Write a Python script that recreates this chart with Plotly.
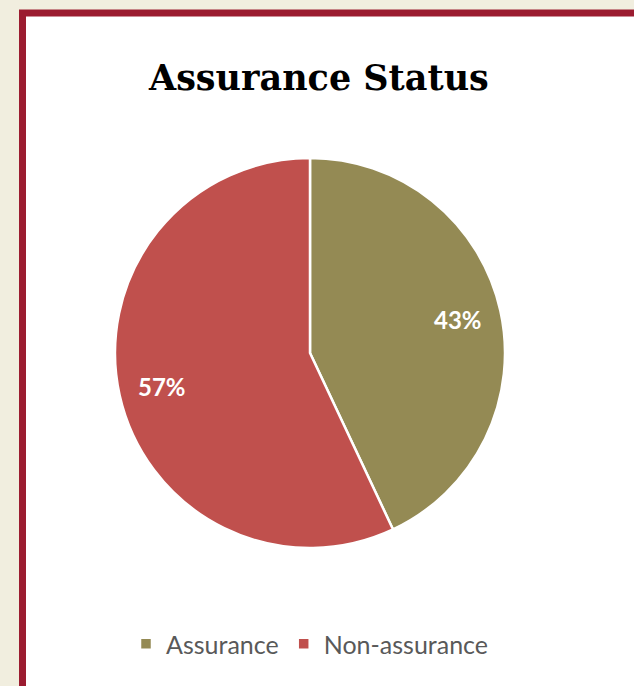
import math
import plotly.graph_objects as go

labels = ["Assurance", "Non-assurance"]
values = [43, 57]
colors = ["#948a54", "#c0504d"]
title_text = "Assurance Status"

W, H = 634, 686
cx, cy, R = 310, 353, 195  # pixel geometry of pie
label_r = 0.78  # label radius as fraction of pie radius

fig = go.Figure(go.Pie(
    labels=labels,
    values=values,
    sort=False,
    direction="clockwise",
    rotation=0,
    marker=dict(colors=colors, line=dict(color="white", width=2.5)),
    textinfo="none",
    hoverinfo="label+percent",
    domain=dict(x=[(cx - R) / W, (cx + R) / W], y=[(H - cy - R) / H, (H - cy + R) / H]),
))

# percentage labels placed along each slice's bisector
total = sum(values)
annotations = []
cum = 0
for v in values:
    mid = (cum + v / 2) / total * 2 * math.pi
    cum += v
    px = cx + label_r * R * math.sin(mid)
    py = cy - label_r * R * math.cos(mid)
    annotations.append(dict(
        text="<b>%d%%</b>" % round(v / total * 100),
        xref="paper", yref="paper", x=px / W, y=1 - py / H,
        xanchor="center", yanchor="middle", showarrow=False,
        font=dict(family="Lato", size=24, color="white"),
    ))

annotations.append(dict(
    text="<b>" + title_text + "</b>", xref="paper", yref="paper",
    x=318 / W, y=1 - 78 / H, xanchor="center", yanchor="middle",
    showarrow=False,
    font=dict(family="DejaVu Serif", size=35, color="black"),
))

fig.update_layout(
    width=W, height=H,
    margin=dict(l=0, r=0, t=0, b=0),
    paper_bgcolor="#f1eedf",
    plot_bgcolor="#f1eedf",
    showlegend=True,
    legend=dict(
        orientation="h",
        x=126 / W, xanchor="left",
        y=(H - 644) / H, yanchor="middle",
        font=dict(family="Lato", size=25, color="#595959"),
        bgcolor="rgba(0,0,0,0)",
    ),
    shapes=[dict(
        type="rect", xref="paper", yref="paper", layer="below",
        x0=22.5 / W, x1=1.2, y0=-0.2, y1=1 - 13 / H,
        line=dict(color="#9b1c30", width=7), fillcolor="white",
    )],
    annotations=annotations,
)

fig.write_html("out.html")
